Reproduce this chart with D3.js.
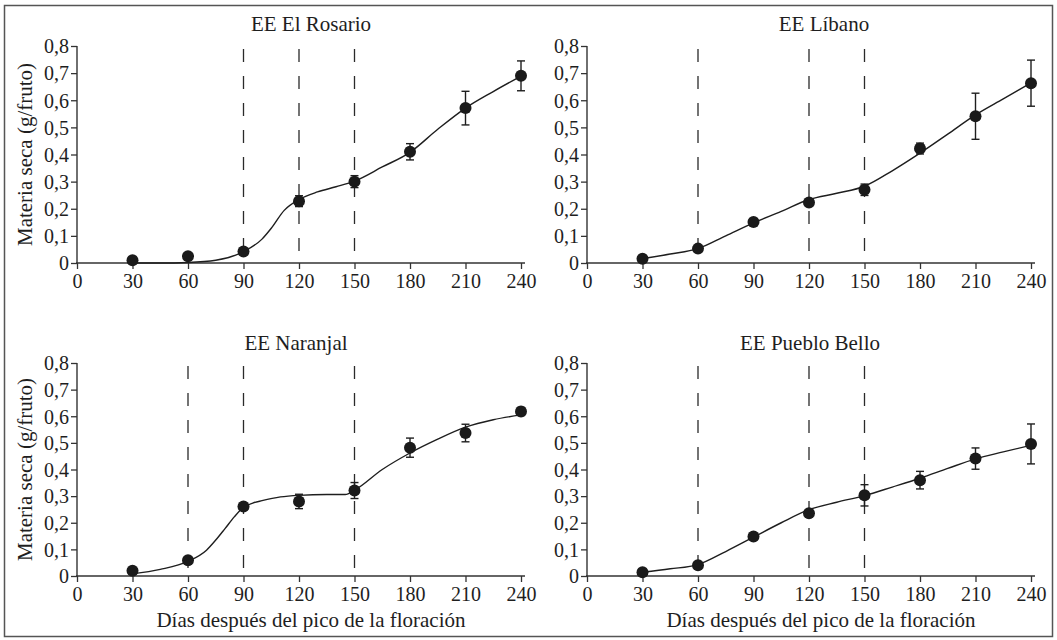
<!DOCTYPE html>
<html>
<head>
<meta charset="utf-8">
<script src="https://cdn.jsdelivr.net/npm/d3@7"></script>
<style>
  body { margin: 0; background: #fff; }
  svg text { font-family: "Liberation Serif", "Times New Roman", serif; fill: #1e1e1e; }
</style>
</head>
<body>
<svg id="chart" width="1057" height="640"></svg>
<script>
// days after flowering peak
var days = [30, 60, 90, 120, 150, 180, 210, 240];
var xTicks = [0, 30, 60, 90, 120, 150, 180, 210, 240];
var yTicks = [0, 0.1, 0.2, 0.3, 0.4, 0.5, 0.6, 0.7, 0.8];

// measured dry matter (g/fruto) and error
var rosarioMean = [0.01, 0.025, 0.042, 0.228, 0.30, 0.41, 0.571, 0.69];
var rosarioErr  = [0, 0, 0, 0.02, 0.022, 0.03, 0.062, 0.055];
var libanoMean  = [0.016, 0.053, 0.151, 0.223, 0.27, 0.422, 0.541, 0.663];
var libanoErr   = [0, 0, 0, 0, 0.021, 0.02, 0.085, 0.085];
var naranjalMean = [0.02, 0.059, 0.261, 0.28, 0.321, 0.482, 0.537, 0.618];
var naranjalErr  = [0, 0, 0, 0.027, 0.03, 0.036, 0.033, 0.015];
var puebloMean = [0.014, 0.04, 0.148, 0.236, 0.303, 0.36, 0.441, 0.496];
var puebloErr  = [0, 0, 0, 0, 0.04, 0.033, 0.04, 0.075];

// fitted curves
var rosarioFitX = [30, 45, 60, 75, 90, 100, 105, 112, 120, 130, 140, 150, 165, 180, 195, 210, 225, 240];
var rosarioFitY = [0.0, 0.0, 0.002, 0.01, 0.042, 0.088, 0.128, 0.194, 0.234, 0.262, 0.281, 0.302, 0.354, 0.408, 0.493, 0.571, 0.632, 0.689];
var libanoFitX = [30, 45, 60, 75, 90, 105, 120, 135, 150, 165, 180, 195, 210, 225, 240];
var libanoFitY = [0.016, 0.033, 0.053, 0.10, 0.148, 0.19, 0.234, 0.257, 0.283, 0.34, 0.405, 0.475, 0.546, 0.605, 0.664];
var naranjalFitX = [30, 45, 60, 70, 75, 80, 85, 90, 95, 100, 110, 120, 135, 145, 150, 165, 180, 195, 210, 225, 240];
var naranjalFitY = [0.008, 0.025, 0.055, 0.097, 0.135, 0.178, 0.222, 0.258, 0.274, 0.283, 0.297, 0.303, 0.306, 0.306, 0.322, 0.40, 0.462, 0.514, 0.559, 0.587, 0.605];
var puebloFitX = [30, 45, 60, 75, 90, 105, 120, 135, 150, 165, 180, 195, 210, 225, 240];
var puebloFitY = [0.014, 0.027, 0.043, 0.092, 0.146, 0.2, 0.249, 0.277, 0.302, 0.334, 0.367, 0.404, 0.44, 0.466, 0.491];

// vertical dashed markers per site
var rosarioStages = [90, 120, 150];
var libanoStages = [60, 120, 150];
var naranjalStages = [60, 90, 150];
var puebloStages = [60, 120, 150];

var titles = ["EE El Rosario", "EE Líbano", "EE Naranjal", "EE Pueblo Bello"];

var panels = [
  {title: titles[0], mean: rosarioMean, err: rosarioErr, fx: rosarioFitX, fy: rosarioFitY, stages: rosarioStages,
   x0: 77, x1: 521, yb: 263, yt: 46, tx: 311, ty: 31, ylab: true, xlab: false},
  {title: titles[1], mean: libanoMean, err: libanoErr, fx: libanoFitX, fy: libanoFitY, stages: libanoStages,
   x0: 587, x1: 1031, yb: 263, yt: 46, tx: 824, ty: 31, ylab: false, xlab: false},
  {title: titles[2], mean: naranjalMean, err: naranjalErr, fx: naranjalFitX, fy: naranjalFitY, stages: naranjalStages,
   x0: 77, x1: 521, yb: 576, yt: 363, tx: 296, ty: 350, ylab: true, xlab: true},
  {title: titles[3], mean: puebloMean, err: puebloErr, fx: puebloFitX, fy: puebloFitY, stages: puebloStages,
   x0: 587, x1: 1031, yb: 576, yt: 363, tx: 810, ty: 350, ylab: false, xlab: true}
];

const svg = d3.select("#chart");

// outer frame
svg.append("rect")
    .attr("x", 4.5).attr("y", 5.5)
    .attr("width", 1048).attr("height", 631)
    .attr("fill", "none")
    .attr("stroke", "#555")
    .attr("stroke-width", 1.5);

var fmt = d => d === 0 ? "0" : d.toFixed(1).replace(".", ",");

panels.forEach(function(p) {
    const x = d3.scaleLinear().domain([0, 240]).range([p.x0, p.x1]);
    const y = d3.scaleLinear().domain([0, 0.8]).range([p.yb, p.yt]);
    const g = svg.append("g");

    // dashed stage lines, pattern starts at the top
    g.selectAll("line.stage")
        .data(p.stages)
        .enter().append("line")
        .attr("x1", d => x(d)).attr("x2", d => x(d))
        .attr("y1", y(0.789)).attr("y2", y(0))
        .attr("stroke", "#2a2a2a")
        .attr("stroke-width", 1.3)
        .attr("stroke-dasharray", "13,14");

    // axes
    const xAxis = g.append("g")
        .attr("transform", `translate(0,${y(0)})`)
        .call(d3.axisBottom(x).tickValues(xTicks).tickSize(6).tickSizeOuter(0).tickPadding(5));
    xAxis.select(".domain").remove();
    xAxis.append("line")
        .attr("x1", x(0) - 1).attr("x2", x(240) + 4)
        .attr("stroke", "#333").attr("stroke-width", 1.4);

    const yAxis = g.append("g")
        .attr("transform", `translate(${x(0)},0)`)
        .call(d3.axisLeft(y).tickValues(yTicks).tickFormat(fmt).tickSize(6).tickSizeOuter(0).tickPadding(2));
    yAxis.select(".domain").remove();
    yAxis.append("line")
        .attr("y1", y(0)).attr("y2", y(0.8))
        .attr("stroke", "#333").attr("stroke-width", 1.4);

    g.selectAll(".tick line").attr("stroke", "#333").attr("stroke-width", 1.3);
    g.selectAll(".tick text")
        .attr("font-size", 20)
        .style("font-family", '"Liberation Serif", "Times New Roman", serif')
        .attr("fill", "#1e1e1e");
    yAxis.selectAll(".tick text").attr("dy", "0.34em");

    // fitted curve
    const fit = p.fx.map((d, i) => [d, p.fy[i]]);
    g.append("path")
        .datum(fit)
        .attr("fill", "none")
        .attr("stroke", "#1e1e1e")
        .attr("stroke-width", 1.4)
        .attr("d", d3.line().x(d => x(d[0])).y(d => y(d[1])).curve(d3.curveMonotoneX));

    // error bars
    const pts = days.map((d, i) => ({day: d, v: p.mean[i], e: p.err[i]}));
    const bars = g.selectAll("g.err")
        .data(pts.filter(d => d.e > 0))
        .enter().append("g");
    bars.append("line")
        .attr("x1", d => x(d.day)).attr("x2", d => x(d.day))
        .attr("y1", d => y(d.v - d.e)).attr("y2", d => y(d.v + d.e))
        .attr("stroke", "#1e1e1e").attr("stroke-width", 1.4);
    bars.append("line")
        .attr("x1", d => x(d.day) - 4).attr("x2", d => x(d.day) + 4)
        .attr("y1", d => y(d.v + d.e)).attr("y2", d => y(d.v + d.e))
        .attr("stroke", "#1e1e1e").attr("stroke-width", 1.4);
    bars.append("line")
        .attr("x1", d => x(d.day) - 4).attr("x2", d => x(d.day) + 4)
        .attr("y1", d => y(d.v - d.e)).attr("y2", d => y(d.v - d.e))
        .attr("stroke", "#1e1e1e").attr("stroke-width", 1.4);

    // points
    g.selectAll("circle")
        .data(pts)
        .enter().append("circle")
        .attr("cx", d => x(d.day))
        .attr("cy", d => y(d.v))
        .attr("r", 6)
        .attr("fill", "#1a1a1a");

    // title
    g.append("text")
        .attr("x", p.tx).attr("y", p.ty)
        .attr("text-anchor", "middle")
        .attr("font-size", 21)
        .text(p.title);

    if (p.ylab) {
        g.append("text")
            .attr("transform", `translate(32,${(p.yb + p.yt) / 2}) rotate(-90)`)
            .attr("text-anchor", "middle")
            .attr("font-size", 21)
            .text("Materia seca (g/fruto)");
    }
    if (p.xlab) {
        g.append("text")
            .attr("x", (p.x0 + p.x1) / 2 + 12).attr("y", p.yb + 51)
            .attr("text-anchor", "middle")
            .attr("font-size", 21)
            .text("Días después del pico de la floración");
    }
});
</script>
</body>
</html>
